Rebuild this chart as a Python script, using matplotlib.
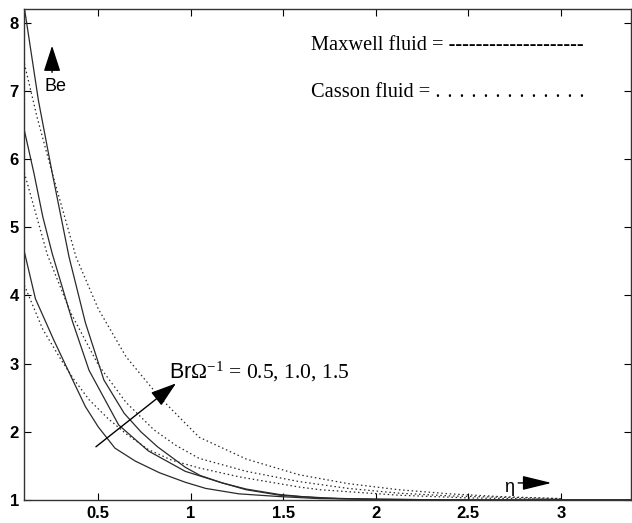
import numpy as np
import matplotlib
matplotlib.use('Agg')
import matplotlib.pyplot as plt

plt.rcParams['mathtext.fontset'] = 'custom'
plt.rcParams['mathtext.rm'] = 'Liberation Serif'
plt.rcParams['mathtext.it'] = 'Liberation Serif:italic'
plt.rcParams['mathtext.sf'] = 'Liberation Sans'
plt.rcParams['font.serif'] = ['Liberation Serif', 'DejaVu Serif']

# Maxwell fluid (solid), Br*Omega^-1 = 0.5, 1.0, 1.5
eta_s1 = [0.1, 0.16, 0.26, 0.37, 0.43, 0.50, 0.59, 0.70, 0.83, 0.97, 1.08, 1.26, 1.48, 1.7, 2.0, 2.5, 3.4]
be_s1 = [4.64, 3.95, 3.34, 2.71, 2.37, 2.07, 1.76, 1.57, 1.40, 1.26, 1.17, 1.09, 1.05, 1.02, 1.01, 1.0, 1.0]

eta_s2 = [0.1, 0.152, 0.2, 0.25, 0.36, 0.45, 0.61, 0.77, 0.97, 1.17, 1.3, 1.48, 1.7, 2.0, 2.5, 3.4]
be_s2 = [6.42, 5.79, 5.15, 4.62, 3.62, 2.9, 2.1, 1.72, 1.42, 1.25, 1.15, 1.07, 1.03, 1.01, 1.0, 1.0]

eta_s3 = [0.1, 0.176, 0.251, 0.342, 0.43, 0.53, 0.64, 0.73, 0.82, 0.97, 1.05, 1.17, 1.30, 1.48, 1.60, 1.80, 2.0, 2.5, 3.4]
be_s3 = [8.22, 6.86, 5.79, 4.56, 3.6, 2.76, 2.27, 2.0, 1.78, 1.48, 1.36, 1.25, 1.16, 1.08, 1.05, 1.02, 1.01, 1.0, 1.0]

# Casson fluid (dotted)
eta_d1 = [0.1, 0.2, 0.3, 0.37, 0.45, 0.55, 0.65, 0.77, 0.9, 1.045, 1.26, 1.585, 1.70, 2.125, 2.5, 3.0]
be_d1 = [4.15, 3.5, 3.05, 2.76, 2.47, 2.2, 1.97, 1.74, 1.58, 1.47, 1.34, 1.19, 1.15, 1.07, 1.03, 1.01]

eta_d2 = [0.1, 0.224, 0.35, 0.5, 0.65, 0.8, 0.92, 1.045, 1.3, 1.585, 1.85, 2.125, 2.4, 2.67, 3.0]
be_d2 = [5.8, 4.6, 3.75, 2.98, 2.43, 2.03, 1.8, 1.61, 1.42, 1.27, 1.17, 1.10, 1.06, 1.04, 1.02]

eta_d3 = [0.1, 0.17, 0.25, 0.38, 0.5, 0.65, 0.83, 1.045, 1.3, 1.585, 1.85, 2.125, 2.4, 2.67, 3.0]
be_d3 = [7.4, 6.6, 5.8, 4.56, 3.8, 3.1, 2.51, 1.92, 1.6, 1.37, 1.24, 1.15, 1.09, 1.05, 1.02]

xticks = [0.5, 1, 1.5, 2, 2.5, 3]
xticklabels = ['0.5', '1', '1.5', '2', '2.5', '3']
yticks = [1, 2, 3, 4, 5, 6, 7, 8]

fig = plt.figure(figsize=(6.32, 5.23), dpi=100)
ax = fig.add_axes([0.0385, 0.044, 0.960, 0.939])

line_kw = dict(color='#2a2a2a', linewidth=0.9)
for x, y in [(eta_s1, be_s1), (eta_s2, be_s2), (eta_s3, be_s3)]:
    ax.plot(x, y, linestyle='-', **line_kw)
for x, y in [(eta_d1, be_d1), (eta_d2, be_d2), (eta_d3, be_d3)]:
    ax.plot(x, y, linestyle=(0, (1.2, 2.2)), **line_kw)

ax.set_xlim(0.1, 3.38)
ax.set_ylim(1, 8.2)
ax.set_xticks(xticks)
ax.set_xticklabels(xticklabels)
ax.set_yticks(yticks)
ax.tick_params(direction='in', length=5, width=0.8, top=True, right=True,
               labelsize=12, pad=4)
for lab in ax.get_xticklabels() + ax.get_yticklabels():
    lab.set_fontfamily('Liberation Sans')
    lab.set_fontweight('bold')
for sp in ax.spines.values():
    sp.set_linewidth(1.0)
    sp.set_color('#333333')

# annotations
head = dict(color='black', lw=1.0, shrinkA=0, shrinkB=0)
ax.annotate('', xy=(0.25, 7.66), xytext=(0.25, 7.27),
            arrowprops=dict(arrowstyle='-|>,head_length=0.8,head_width=0.26',
                            mutation_scale=20, **head))
ax.text(0.271, 7.06, 'Be', fontsize=13, family='Liberation Sans',
        ha='center', va='center')

ax.annotate('', xy=(0.92, 2.71), xytext=(0.487, 1.78),
            arrowprops=dict(arrowstyle='-|>,head_length=0.8,head_width=0.26',
                            mutation_scale=20, **head))
ax.text(0.882, 2.87, r'$\mathsf{Br}\Omega^{-1}$ = 0.5, 1.0, 1.5', fontsize=15.5,
        family='serif', ha='left', va='center')

ax.text(2.72, 1.19, 'η', fontsize=13, family='Liberation Sans',
        ha='center', va='center')
ax.annotate('', xy=(2.95, 1.25), xytext=(2.77, 1.25),
            arrowprops=dict(arrowstyle='-|>,head_length=0.9,head_width=0.22',
                            mutation_scale=20, **head))

ax.text(1.65, 7.66, 'Maxwell fluid = ' + '-' * 20, fontsize=14.7,
        family='serif', ha='left', va='center')
ax.text(1.65, 6.97, 'Casson fluid = ' + '.\u00a0\u200a' * 12 + '.',
        fontsize=14.7, family=['Liberation Serif', 'DejaVu Serif'],
        ha='left', va='center')

fig.savefig('out.png', dpi=100)
